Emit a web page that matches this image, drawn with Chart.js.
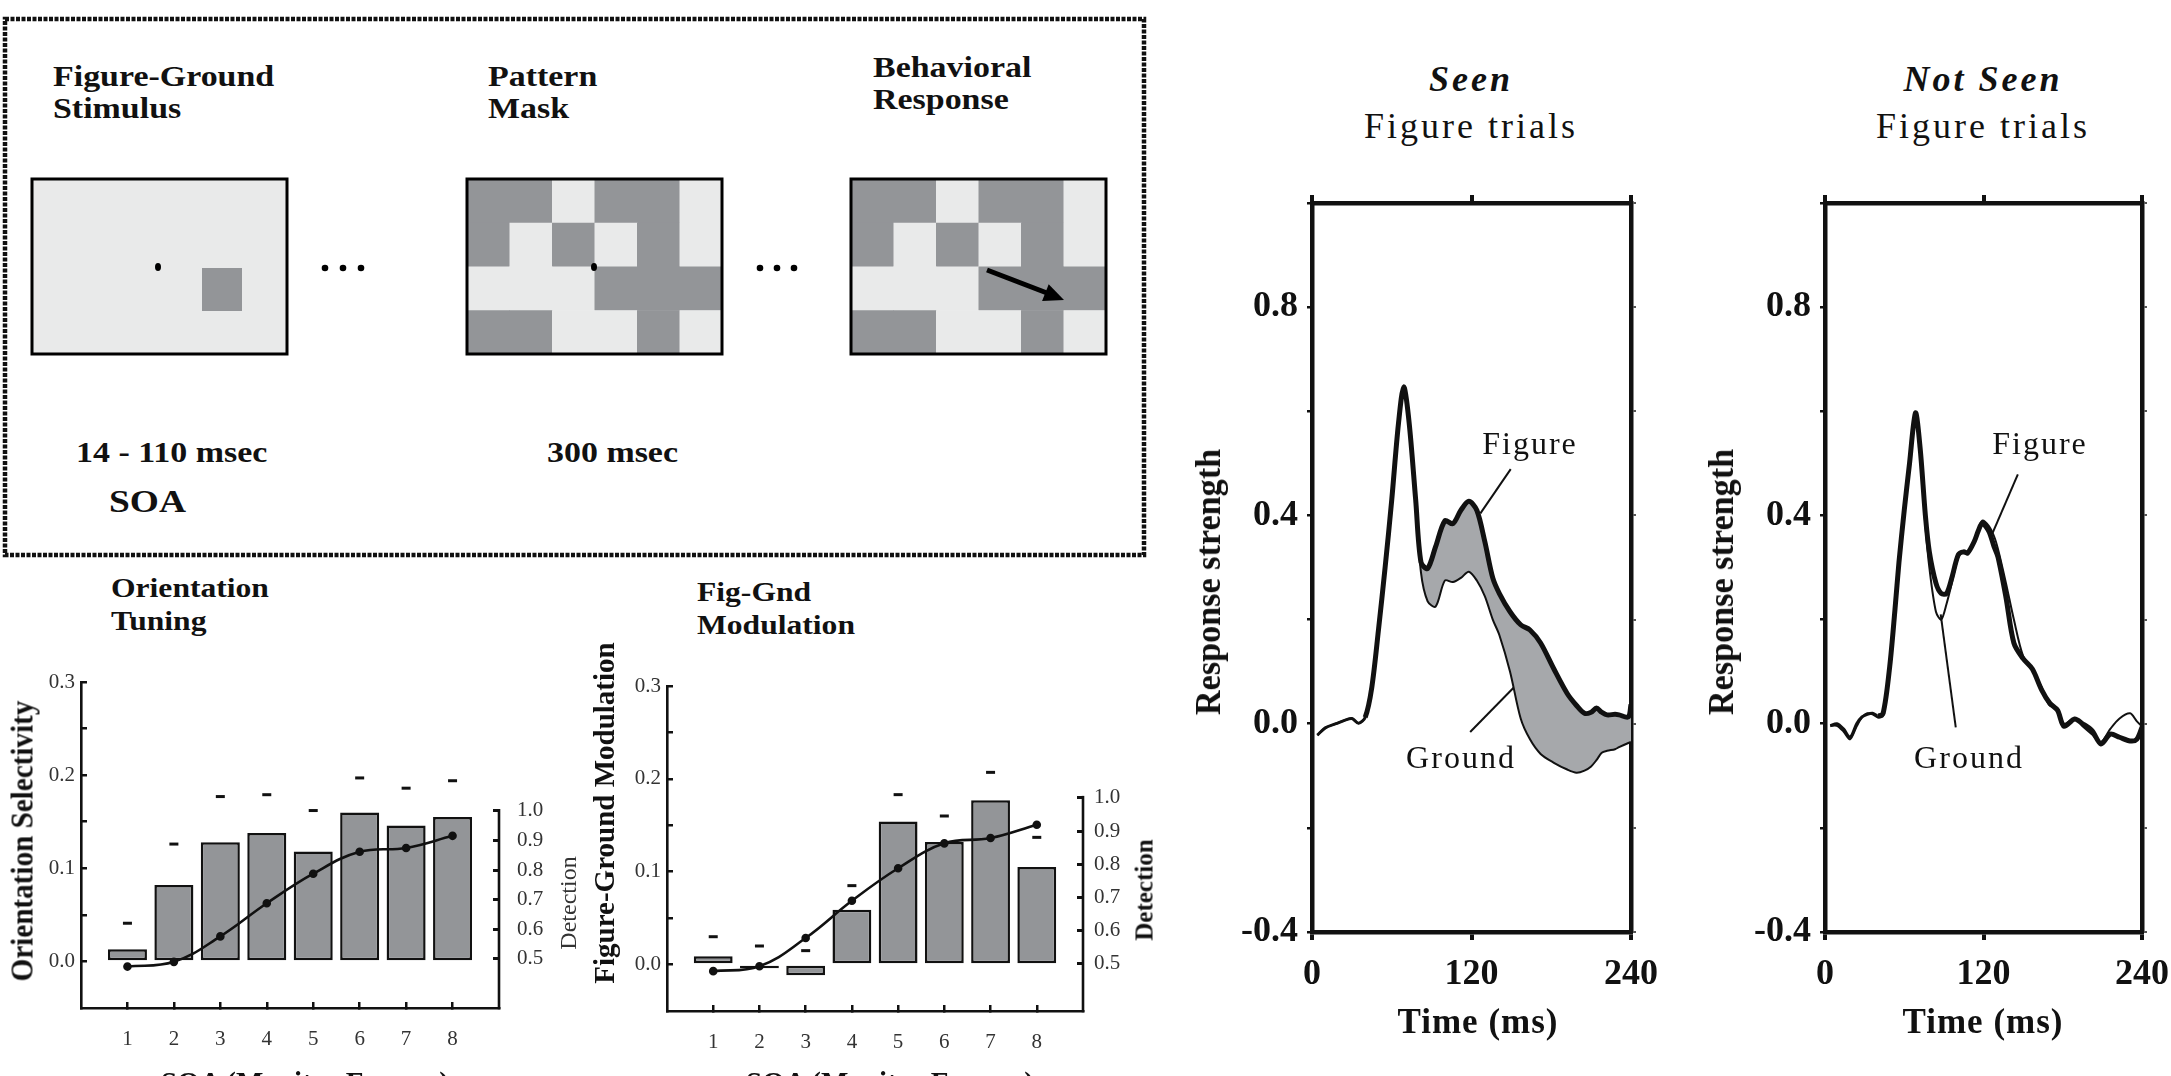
<!DOCTYPE html>
<html>
<head>
<meta charset="utf-8">
<script src="https://cdn.jsdelivr.net/npm/chart.js@4.4.1/dist/chart.umd.min.js"></script>
<style>
html, body { margin: 0; padding: 0; background: #fff; }
body { width: 2171px; height: 1076px; position: relative; overflow: hidden;
       font-family: 'Liberation Serif', 'Times New Roman', serif; color: #111; }
.t { position: absolute; white-space: nowrap; line-height: 1; transform-origin: 0 0; transform: scaleX(1.17); font-weight: bold; }
.ctr { position: absolute; white-space: nowrap; line-height: 1; transform: translate(-50%, -50%); }
.rot { position: absolute; white-space: nowrap; line-height: 1; transform: translate(-50%, -50%) rotate(-90deg); }
.cv { position: absolute; }
</style>
</head>
<body>

<!-- trial sequence diagram -->
<svg id="diagram" class="cv" style="left:0;top:0" width="1150" height="560"></svg>

<div class="t" style="left:53px;top:62px;font-size:29px">Figure-Ground</div>
<div class="t" style="left:53px;top:94px;font-size:29px">Stimulus</div>
<div class="t" style="left:488px;top:62px;font-size:29px">Pattern</div>
<div class="t" style="left:488px;top:94px;font-size:29px">Mask</div>
<div class="t" style="left:873px;top:53px;font-size:29px">Behavioral</div>
<div class="t" style="left:873px;top:85px;font-size:29px">Response</div>
<div class="t" style="left:76px;top:438px;font-size:29px">14 - 110 msec</div>
<div class="t" style="left:109px;top:485px;font-size:32px">SOA</div>
<div class="t" style="left:547px;top:438px;font-size:29px">300 msec</div>

<!-- SOA panels -->
<div class="t" style="left:111px;top:575px;font-size:27px">Orientation</div>
<div class="t" style="left:111px;top:608px;font-size:27px">Tuning</div>
<div class="t" style="left:697px;top:579px;font-size:27px">Fig-Gnd</div>
<div class="t" style="left:697px;top:612px;font-size:27px">Modulation</div>

<div class="cv" style="left:0;top:640px"><canvas id="orient" width="560" height="436"></canvas></div>
<div class="cv" style="left:600px;top:640px"><canvas id="fgmod" width="540" height="436"></canvas></div>

<div class="rot" style="left:22px;top:841px;font-size:31px;font-weight:bold;transform:translate(-50%,-50%) rotate(-90deg) scaleX(0.94)">Orientation Selectivity</div>
<div class="rot" style="left:568px;top:903px;font-size:24px;color:#333">Detection</div>
<div class="rot" style="left:604px;top:813px;font-size:29px;font-weight:bold">Figure-Ground Modulation</div>
<div class="rot" style="left:1144px;top:890px;font-size:25px;font-weight:bold">Detection</div>
<div class="ctr" style="left:305px;top:1082px;font-size:29px;font-weight:bold">SOA (Monitor Frames)</div>
<div class="ctr" style="left:890px;top:1082px;font-size:29px;font-weight:bold">SOA (Monitor Frames)</div>

<!-- time course panels -->
<div class="ctr" style="left:1471px;top:79px;font-size:36px;font-weight:bold;font-style:italic;letter-spacing:3px">Seen</div>
<div class="ctr" style="left:1471px;top:126px;font-size:36px;letter-spacing:3px">Figure trials</div>
<div class="ctr" style="left:1983px;top:79px;font-size:36px;font-weight:bold;font-style:italic;letter-spacing:3px">Not Seen</div>
<div class="ctr" style="left:1983px;top:126px;font-size:36px;letter-spacing:3px">Figure trials</div>

<div class="cv" style="left:1180px;top:160px"><canvas id="seen" width="490" height="916"></canvas></div>
<div class="cv" style="left:1690px;top:160px"><canvas id="notseen" width="481" height="916"></canvas></div>

<div class="rot" style="left:1208px;top:582px;font-size:36px;font-weight:bold;transform:translate(-50%,-50%) rotate(-90deg) scaleX(0.95)">Response strength</div>
<div class="rot" style="left:1721px;top:582px;font-size:36px;font-weight:bold;transform:translate(-50%,-50%) rotate(-90deg) scaleX(0.95)">Response strength</div>
<div class="ctr" style="left:1478px;top:1021px;font-size:35px;font-weight:bold;letter-spacing:1px">Time (ms)</div>
<div class="ctr" style="left:1983px;top:1021px;font-size:35px;font-weight:bold;letter-spacing:1px">Time (ms)</div>
<div class="ctr" style="left:1530px;top:443px;font-size:32px;letter-spacing:2px">Figure</div>
<div class="ctr" style="left:1461px;top:757px;font-size:32px;letter-spacing:2px">Ground</div>
<div class="ctr" style="left:2040px;top:443px;font-size:32px;letter-spacing:2px">Figure</div>
<div class="ctr" style="left:1969px;top:757px;font-size:32px;letter-spacing:2px">Ground</div>

<script>
// ---- data ----
const soaFrames = [1, 2, 3, 4, 5, 6, 7, 8];
const orientSel = [0.013, 0.082, 0.128, 0.138, 0.118, 0.160, 0.146, 0.155];
const orientErr = [0.041, 0.126, 0.177, 0.179, 0.162, 0.197, 0.186, 0.194];
const orientDetect = [0.474, 0.490, 0.576, 0.688, 0.788, 0.862, 0.875, 0.916];
const fgMod = [0.009, -0.004, -0.0115, 0.059, 0.154, 0.132, 0.177, 0.105];
const fgErr = [0.030, 0.020, 0.015, 0.085, 0.183, 0.160, 0.207, 0.137];
const fgDetect = [0.478, 0.493, 0.578, 0.690, 0.788, 0.863, 0.879, 0.919];
const selTicks = [0, 0.05, 0.1, 0.15, 0.2, 0.25, 0.3];
const detTicks = [0.5, 0.6, 0.7, 0.8, 0.9, 1.0];

const seenTime = [4, 10, 18, 25, 30, 35, 40, 45, 50, 55, 60, 65, 69, 73, 78, 82, 87, 93, 100, 106, 112, 118, 124, 130,
  136, 141, 149, 157, 164, 172, 182, 192, 199, 205, 210, 214, 218, 222, 228, 231, 238, 240];
const seenFigure = [-0.022, -0.008, 0.0, 0.007, 0.01, 0.001, 0.012, 0.07, 0.18, 0.3, 0.43, 0.575, 0.647, 0.58, 0.43, 0.31,
  0.298, 0.34, 0.39, 0.384, 0.41, 0.427, 0.41, 0.35, 0.28, 0.25, 0.215, 0.19, 0.18, 0.155, 0.105, 0.058, 0.035, 0.02,
  0.022, 0.03, 0.022, 0.017, 0.018, 0.017, 0.013, 0.037];
const seenGround = [-0.022, -0.008, 0.0, 0.007, 0.01, 0.001, 0.012, 0.07, 0.18, 0.3, 0.43, 0.575, 0.647, 0.58, 0.43, 0.29,
  0.235, 0.225, 0.275, 0.272, 0.28, 0.292, 0.275, 0.245, 0.2, 0.17, 0.1, 0.01, -0.03, -0.058, -0.075, -0.088, -0.094,
  -0.09, -0.082, -0.07, -0.056, -0.052, -0.049, -0.045, -0.037, -0.035];

const notSeenTime = [4, 9, 14, 19, 24, 28, 32, 36, 40, 44, 49, 53, 56, 60, 64, 68.5, 72, 76, 79, 84, 88, 92, 96, 101, 105,
  108, 113, 116, 119, 124, 128, 131, 137, 143, 150, 157, 164, 170, 176, 181, 189, 195, 202, 209, 216, 223, 231, 236, 240];
const notSeenFigure = [-0.004, 0.0, -0.01, -0.026, 0.0, 0.013, 0.018, 0.02, 0.015, 0.02, 0.11, 0.22, 0.31, 0.41, 0.5,
  0.597, 0.53, 0.4, 0.33, 0.27, 0.25, 0.25, 0.28, 0.325, 0.33, 0.328, 0.35, 0.37, 0.385, 0.37, 0.34, 0.32, 0.243, 0.155,
  0.125, 0.105, 0.065, 0.04, 0.026, -0.005, 0.009, 0.0, -0.013, -0.039, -0.02, -0.026, -0.033, -0.03, -0.007];
const notSeenGround = [-0.004, -0.004, -0.015, -0.03, -0.005, 0.012, 0.02, 0.018, 0.012, 0.015, 0.1, 0.21, 0.3, 0.4, 0.49,
  0.59, 0.52, 0.38, 0.3, 0.215, 0.2, 0.23, 0.27, 0.32, 0.33, 0.325, 0.35, 0.372, 0.39, 0.38, 0.36, 0.335, 0.27, 0.2,
  0.13, 0.105, 0.07, 0.035, 0.03, 0.0, 0.01, -0.005, -0.02, -0.035, -0.01, 0.01, 0.02, 0.005, -0.005];
const respTicks = [-0.4, -0.2, 0, 0.2, 0.4, 0.6, 0.8, 1.0];
const timeTicks = [0, 120, 240];

// label pointers, [time, response] pairs
const seenFigPointer = [[149.5, 0.489], [126.7, 0.404]];
const seenGndPointer = [[119, -0.016], [152, 0.07]];
const notSeenFigPointer = [[146, 0.479], [127, 0.367]];
const notSeenGndPointer = [[99, -0.007], [87.6, 0.21]];

// mask pattern (D = dark, L = light), 4 rows of 6 cells
const maskRows = ['DDLDDL', 'DLDLDL', 'LLLDDD', 'DDLLDL'];

const INK = '#111';
const BAR_GRAY = '#939598';
const LIGHT = '#e9eaea';
const SERIF = "'Liberation Serif', 'Times New Roman', serif";

// ---- diagram ----
(function drawDiagram() {
  const svg = document.getElementById('diagram');
  const ns = 'http://www.w3.org/2000/svg';
  function el(tag, attrs) {
    const e = document.createElementNS(ns, tag);
    for (const k in attrs) e.setAttribute(k, attrs[k]);
    svg.appendChild(e);
    return e;
  }
  el('rect', { x: 5, y: 19, width: 1139, height: 536, fill: 'none', stroke: '#111', 'stroke-width': 4.5, 'stroke-dasharray': '4 1.5' });

  const py = 179, pw = 255, ph = 175;
  // stimulus panel
  el('rect', { x: 32, y: py, width: pw, height: ph, fill: LIGHT });
  el('rect', { x: 202, y: 268, width: 40, height: 43, fill: BAR_GRAY });
  el('rect', { x: 32, y: py, width: pw, height: ph, fill: 'none', stroke: '#000', 'stroke-width': 3 });
  el('ellipse', { cx: 158, cy: 267, rx: 3, ry: 4, fill: '#000' });

  function mask(x0) {
    const cw = pw / 6, rh = ph / 4;
    maskRows.forEach((row, r) => {
      row.split('').forEach((c, k) => {
        el('rect', { x: x0 + k * cw, y: py + r * rh, width: cw + 0.5, height: rh + 0.5, fill: c === 'D' ? BAR_GRAY : LIGHT });
      });
    });
    el('rect', { x: x0, y: py, width: pw, height: ph, fill: 'none', stroke: '#000', 'stroke-width': 3 });
  }
  mask(467);
  el('ellipse', { cx: 594, cy: 267, rx: 3, ry: 4, fill: '#000' });
  mask(851);

  [325, 343, 361, 760, 777, 794].forEach(x => el('circle', { cx: x, cy: 268, r: 3.3, fill: '#000' }));

  // response arrow
  el('line', { x1: 987, y1: 270, x2: 1047, y2: 293, stroke: '#000', 'stroke-width': 5 });
  el('polygon', { points: '1064,300 1048.7,284.3 1042.1,301.1', fill: '#000' });
})();

// ---- helpers ----
function fixBox(size) {
  return function (s) {
    if (s.isHorizontal()) s.height = size; else s.width = size;
    s.paddingLeft = 0; s.paddingRight = 0; s.paddingTop = 0; s.paddingBottom = 0;
  };
}
function setTicks(values) {
  return function (s) { s.ticks = values.map(v => ({ value: v })); };
}
function pts(xs, ys) { return xs.map((x, i) => ({ x: x, y: ys[i] })); }
function pairPts(p) { return p.map(a => ({ x: a[0], y: a[1] })); }

// right-hand Detection axis line only spans the 1.0 tick down to the x axis
const detAxisLine = {
  id: 'detAxisLine',
  afterDraw(chart) {
    const s = chart.scales.y2, ctx = chart.ctx;
    ctx.save();
    ctx.strokeStyle = INK;
    ctx.lineWidth = 2.6;
    ctx.beginPath();
    ctx.moveTo(s.left, s.getPixelForValue(1.0) - 2);
    ctx.lineTo(s.left, chart.chartArea.bottom + 1.3);
    ctx.stroke();
    ctx.restore();
  }
};

function soaChart(id, bars, errs, det, y2min, y2max, pad, y2width, y2pad) {
  new Chart(document.getElementById(id), {
    type: 'bar',
    data: {
      datasets: [
        {
          type: 'line', yAxisID: 'y2', data: pts(soaFrames, det), order: 1,
          borderColor: INK, borderWidth: 2.6, tension: 0.4,
          pointRadius: 3, pointBackgroundColor: INK, pointBorderColor: INK
        },
        {
          type: 'line', yAxisID: 'y', data: pts(soaFrames, errs), order: 2, showLine: false,
          pointStyle: 'line', pointRadius: 4.5, pointBorderWidth: 3, pointBorderColor: INK
        },
        {
          type: 'bar', yAxisID: 'y', data: pts(soaFrames, bars), order: 3,
          backgroundColor: BAR_GRAY, borderColor: INK, borderWidth: 2.5, borderSkipped: false,
          barPercentage: 0.84, categoryPercentage: 1
        }
      ]
    },
    options: {
      responsive: false, animation: false, devicePixelRatio: 1,
      layout: { padding: pad },
      plugins: { legend: { display: false }, tooltip: { enabled: false } },
      scales: {
        x: {
          type: 'linear', min: 0, max: 9, offset: false,
          afterBuildTicks: setTicks(soaFrames), afterFit: fixBox(50),
          grid: { offset: false, drawOnChartArea: false, tickLength: -6, lineWidth: 2.5, color: INK },
          border: { width: 2.6, color: INK },
          ticks: { padding: 25, color: '#333', font: { family: SERIF, size: 21 } }
        },
        y: {
          position: 'left', min: -0.05, max: 0.3,
          afterBuildTicks: setTicks(selTicks), afterFit: fixBox(60),
          grid: { drawOnChartArea: false, tickLength: -6, lineWidth: 2.5, color: INK },
          border: { width: 2.6, color: INK },
          ticks: {
            padding: 12, color: '#333', font: { family: SERIF, size: 21 },
            callback: v => (Math.abs(v * 10 - Math.round(v * 10)) < 1e-6 ? v.toFixed(1) : '')
          }
        },
        y2: {
          position: 'right', min: y2min, max: y2max,
          afterBuildTicks: setTicks(detTicks), afterFit: fixBox(y2width),
          grid: { drawOnChartArea: false, tickLength: -6, lineWidth: 3, color: INK },
          border: { display: false },
          ticks: { padding: y2pad, color: '#333', font: { family: SERIF, size: 21 }, callback: v => v.toFixed(1) }
        }
      }
    },
    plugins: [detAxisLine]
  });
}

soaChart('orient', orientSel, orientErr, orientDetect, 0.334, 1.436, { left: 21, top: 42, right: 1, bottom: 18 }, 60, 24);
soaChart('fgmod', fgMod, fgErr, fgDetect, 0.358, 1.337, { left: 7, top: 46, right: 2, bottom: 15 }, 55, 17);

function timeChart(id, time, fig, gnd, shade, figPtr, gndPtr, pad) {
  const lineBase = { pointRadius: 0, tension: 0.3, borderColor: INK };
  new Chart(document.getElementById(id), {
    type: 'line',
    data: {
      datasets: [
        // figure trace is drawn thinner over the flat baseline before the response onset
        Object.assign({
          data: pts(time, fig), borderWidth: 5, fill: false,
          segment: { borderWidth: c => (c.p1.parsed.x <= 40 ? 3 : 5) }
        }, lineBase),
        Object.assign({ data: pts(time, gnd), borderWidth: 2, fill: shade ? '-1' : false, backgroundColor: '#a6a8ab' }, lineBase),
        { data: pairPts(figPtr), borderWidth: 2, borderColor: INK, pointRadius: 0, fill: false },
        { data: pairPts(gndPtr), borderWidth: 2, borderColor: INK, pointRadius: 0, fill: false }
      ]
    },
    options: {
      responsive: false, animation: false, devicePixelRatio: 1,
      layout: { padding: pad },
      plugins: { legend: { display: false }, tooltip: { enabled: false } },
      scales: {
        x: {
          type: 'linear', min: 0, max: 240,
          afterBuildTicks: setTicks(timeTicks), afterFit: fixBox(70),
          grid: { drawOnChartArea: false, tickLength: 8, lineWidth: 4, color: INK },
          border: { width: 4.5, color: INK },
          ticks: { padding: 13, color: INK, font: { family: SERIF, size: 36, weight: 'bold' } }
        },
        x2: {
          type: 'linear', position: 'top', min: 0, max: 240,
          afterBuildTicks: setTicks(timeTicks), afterFit: fixBox(12),
          grid: { drawOnChartArea: false, tickLength: 8, lineWidth: 4, color: INK },
          border: { width: 4.5, color: INK },
          ticks: { display: false }
        },
        y: {
          position: 'left', min: -0.4, max: 1.0,
          afterBuildTicks: setTicks(respTicks), afterFit: fixBox(100),
          grid: { drawOnChartArea: false, tickLength: 5, lineWidth: 2.5, color: INK },
          border: { width: 4.5, color: INK },
          ticks: {
            padding: 9, color: INK, font: { family: SERIF, size: 36, weight: 'bold' },
            callback: v => (Math.abs(v / 0.4 - Math.round(v / 0.4)) < 1e-6 && v < 0.99 ? v.toFixed(1) : '')
          }
        },
        y2: {
          position: 'right', min: -0.4, max: 1.0,
          afterBuildTicks: setTicks(respTicks), afterFit: fixBox(12),
          grid: { drawOnChartArea: false, tickLength: 5, lineWidth: 2, color: '#555' },
          border: { width: 4.5, color: INK },
          ticks: { display: false }
        }
      }
    }
  });
}

timeChart('seen', seenTime, seenFigure, seenGround, true, seenFigPointer, seenGndPointer,
  { left: 32, top: 31, right: 27, bottom: 74 });
timeChart('notseen', notSeenTime, notSeenFigure, notSeenGround, false, notSeenFigPointer, notSeenGndPointer,
  { left: 35, top: 31, right: 17, bottom: 74 });
</script>
</body>
</html>
